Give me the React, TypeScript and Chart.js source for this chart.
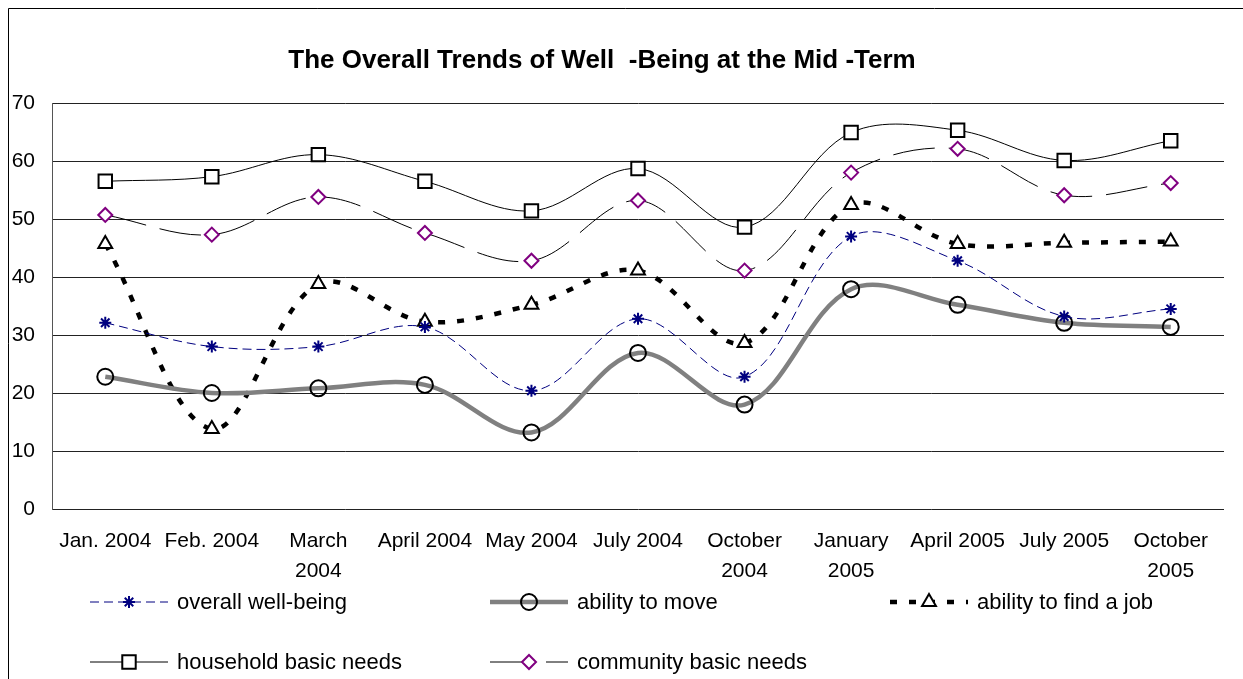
import React, { useEffect, useRef } from "react";
import { Chart, registerables } from "chart.js";
import { drawPoint } from "chart.js/helpers";

Chart.register(...registerables);

const categories: (string | string[])[] = [
  "Jan. 2004",
  "Feb. 2004",
  ["March", "2004"],
  "April 2004",
  "May 2004",
  "July 2004",
  ["October", "2004"],
  ["January", "2005"],
  "April 2005",
  "July 2005",
  ["October", "2005"],
];

const overallWellBeing = [32.1, 28.0, 28.0, 31.4, 20.4, 32.8, 22.8, 47.0, 42.8, 33.2, 34.5];
const abilityToMove = [22.8, 20.0, 20.8, 21.4, 13.2, 26.9, 18.0, 37.9, 35.2, 32.1, 31.4];
const abilityToFindJob = [45.7, 13.8, 38.8, 32.3, 35.2, 41.1, 28.6, 52.4, 45.7, 45.9, 46.1];
const householdBasicNeeds = [56.5, 57.3, 61.1, 56.5, 51.4, 58.7, 48.6, 64.9, 65.3, 60.1, 63.5];
const communityBasicNeeds = [50.7, 47.3, 53.8, 47.6, 42.8, 53.2, 41.1, 58.0, 62.1, 54.1, 56.2];

const TITLE = "The Overall Trends of Well  -Being at the Mid -Term";
const FONT = "Arial, 'Liberation Sans', sans-serif";

// legend layout: [datasetIndex, column, row]
const legendLayout = [
  [0, 0, 0],
  [1, 1, 0],
  [2, 2, 0],
  [3, 0, 1],
  [4, 1, 1],
];

const decorPlugin = {
  id: "decor",
  beforeDraw(chart: any) {
    const ctx = chart.ctx;
    ctx.save();
    ctx.fillStyle = "#ffffff";
    ctx.fillRect(0, 0, chart.width, chart.height);
    ctx.strokeStyle = "#000000";
    ctx.lineWidth = 1;
    ctx.beginPath();
    ctx.moveTo(8.5, chart.height);
    ctx.lineTo(8.5, 8.5);
    ctx.lineTo(chart.width, 8.5);
    ctx.stroke();
    ctx.restore();
  },
  afterDraw(chart: any) {
    const ctx = chart.ctx;
    ctx.save();
    // title
    ctx.fillStyle = "#000";
    ctx.font = `bold 26px ${FONT}`;
    ctx.textAlign = "center";
    ctx.textBaseline = "middle";
    ctx.fillText(TITLE, 602, 61);

    // legend
    ctx.font = `22px ${FONT}`;
    ctx.textAlign = "left";
    for (const [di, col, row] of legendLayout) {
      const ds = chart.data.datasets[di];
      const x0 = 90 + col * 400;
      const y = 602 + row * 60;
      ctx.save();
      ctx.strokeStyle = ds.borderColor;
      ctx.lineWidth = ds.borderWidth;
      ctx.setLineDash(ds.borderDash || []);
      ctx.beginPath();
      ctx.moveTo(x0, y);
      ctx.lineTo(x0 + 78, y);
      ctx.stroke();
      ctx.restore();
      ctx.save();
      ctx.strokeStyle = ds.pointBorderColor;
      ctx.fillStyle = ds.pointBackgroundColor;
      ctx.lineWidth = ds.pointBorderWidth;
      drawPoint(ctx, { pointStyle: ds.pointStyle, rotation: 0, radius: ds.pointRadius, borderWidth: ds.pointBorderWidth }, x0 + 39, y);
      ctx.restore();
      ctx.fillStyle = "#000";
      ctx.fillText(ds.label, x0 + 87, y + 1);
    }
    ctx.restore();
  },
};

export default function App() {
  const ref = useRef<HTMLCanvasElement>(null);
  useEffect(() => {
    if (!ref.current) return;
    const chart = new Chart(ref.current, {
      type: "line",
      data: {
        labels: categories,
        datasets: [
          {
            label: "overall well-being",
            data: overallWellBeing,
            borderColor: "#000080",
            borderWidth: 1,
            borderDash: [9, 5],
            pointStyle: "star",
            pointRadius: 6,
            pointBorderWidth: 2,
            pointBorderColor: "#000080",
            pointBackgroundColor: "#000080",
          },
          {
            label: "ability to move",
            data: abilityToMove,
            borderColor: "#808080",
            borderWidth: 4.5,
            pointStyle: "circle",
            pointRadius: 8,
            pointBorderWidth: 2,
            pointBorderColor: "#000",
            pointBackgroundColor: "rgba(255,255,255,0)",
          },
          {
            label: "ability to find a job",
            data: abilityToFindJob,
            borderColor: "#000",
            borderWidth: 4.5,
            borderDash: [7, 12],
            pointStyle: "triangle",
            pointRadius: 8,
            pointBorderWidth: 2,
            pointBorderColor: "#000",
            pointBackgroundColor: "#fff",
          },
          {
            label: "household basic needs",
            data: householdBasicNeeds,
            borderColor: "#000",
            borderWidth: 1,
            pointStyle: "rect",
            pointRadius: 9.5,
            pointBorderWidth: 2,
            pointBorderColor: "#000",
            pointBackgroundColor: "#fff",
          },
          {
            label: "community basic needs",
            data: communityBasicNeeds,
            borderColor: "#000",
            borderWidth: 1,
            borderDash: [42, 14],
            pointStyle: "rectRot",
            pointRadius: 7,
            pointBorderWidth: 2,
            pointBorderColor: "#800080",
            pointBackgroundColor: "#fff",
          },
        ],
      },
      options: {
        animation: false,
        responsive: false,
        devicePixelRatio: 1,
        events: [],
        layout: { padding: { left: 8, right: 19, top: 103, bottom: 0 } },
        elements: { line: { tension: 0.35, fill: false } },
        plugins: {
          legend: { display: false },
          title: { display: false },
          tooltip: { enabled: false },
        },
        scales: {
          x: {
            type: "category",
            offset: true,
            grid: { display: false, drawTicks: false },
            border: { display: false },
            ticks: {
              color: "#000",
              font: { family: FONT, size: 21, lineHeight: 1.43 },
              padding: 17,
              maxRotation: 0,
              minRotation: 0,
              autoSkip: false,
            },
            afterFit(scale: any) {
              scale.height = 170;
            },
          },
          y: {
            min: 0,
            max: 70,
            grid: { color: "#222", lineWidth: 1, drawTicks: false },
            border: { display: true, color: "#555", width: 1 },
            ticks: {
              stepSize: 10,
              color: "#000",
              font: { family: FONT, size: 21 },
              padding: 17,
            },
            afterFit(scale: any) {
              scale.width = 44;
            },
          },
        },
      },
      plugins: [decorPlugin],
    } as any);
    return () => chart.destroy();
  }, []);
  return (
    <div style={{ position: "fixed", left: 0, top: 0, width: 1243, height: 679, background: "#fff" }}>
      <canvas ref={ref} width={1243} height={679} />
    </div>
  );
}
